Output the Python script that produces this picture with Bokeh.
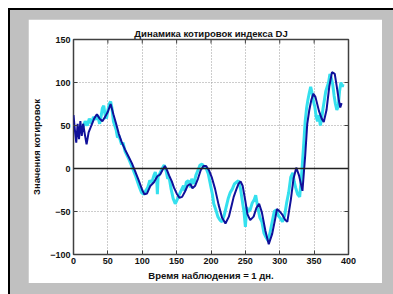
import math
from bokeh.plotting import figure
from bokeh.models import Span, FixedTicker, Range1d, Spacer
from bokeh.layouts import column, row
from bokeh.embed import file_html
from bokeh.resources import INLINE

# dark-blue (smoothed) series
blue_x = [0, 2, 4, 6, 8, 10, 12, 14, 16, 19, 22, 26, 30, 34, 38, 42, 46, 50, 54, 58,
          62, 66, 70, 75, 80, 85, 90, 95, 100, 103, 107, 112, 117, 122, 126, 130, 133,
          136, 139, 143, 146, 150, 154, 158, 162, 166, 170, 173, 177, 181, 185, 189,
          193, 197, 201, 206, 211, 216, 221, 226, 230, 233, 237, 240, 243, 246, 250,
          253, 257, 262, 266, 270, 274, 279, 284, 289, 293, 296, 300, 304, 308, 311,
          316, 320, 324, 328, 333, 337, 340, 343, 346, 349, 352, 357, 361, 364, 368,
          372, 376, 380, 383, 386, 388, 390]
blue_y = [62, 45, 30, 52, 34, 55, 38, 52, 42, 28, 42, 50, 58, 63, 58, 55, 60, 66, 75, 63,
          52, 40, 31, 22, 14, 6, -4, -14, -25, -30, -29, -20, -16, -9, -7, -1, 3,
          -2, -8, -15, -22, -29, -34, -33, -27, -20, -18, -23, -20, -12, -2, 3,
          3, -2, -10, -24, -42, -57, -64, -56, -43, -33, -24, -18, -15, -20, -38,
          -53, -60, -56, -46, -41, -51, -72, -88, -76, -60, -47, -50, -54, -60, -62,
          -37, -12, 1, -8, -26, 15, 52, 68, 80, 87, 83, 67, 58, 54, 68,
          95, 112, 110, 95, 79, 71, 76]

# cyan (observed) series
cyan_x = [14, 17, 20, 23, 26, 29, 32, 35, 38, 40, 42, 44, 46, 48, 50, 52, 54, 56, 58, 60,
          62, 64, 66, 68, 70, 72, 75, 78, 81, 84, 87, 90, 93, 96, 99, 102, 105, 108,
          111, 114, 117, 119, 121, 122, 123, 126, 129, 132, 135, 137, 139, 142, 145,
          148, 151, 154, 157, 160, 162, 164, 167, 170, 172, 175, 178, 181, 184, 187,
          190, 193, 196, 199, 202, 204, 207, 210, 213, 216, 219, 222, 225, 228, 231,
          234, 237, 240, 243, 246, 248, 250, 252, 254, 257, 260, 263, 265, 268, 271,
          274, 277, 280, 283, 286, 289, 292, 295, 298, 301, 304, 307, 310, 313, 316,
          319, 321, 323, 326, 329, 332, 335, 337, 339, 341, 343, 345, 347, 349, 351,
          353, 355, 357, 359, 361, 363, 365, 367, 369, 371, 373, 375, 377, 379, 381,
          383, 385, 387, 389, 391, 392]
cyan_y = [48, 55, 50, 58, 52, 60, 57, 62, 52, 60, 70, 73, 62, 58, 68, 75, 78, 70, 55, 50,
          45, 36, 38, 33, 28, 30, 20, 15, 10, 4, -2, -8, -15, -22, -28, -30, -26, -22,
          -14, -16, -8, -4, -12, -30, -10, -5, 0, 4, -4, -12, -10, -24, -35,
          -41, -36, -30, -25, -20, -26, -16, -14, -22, -12, -18, -8, -2, 4, 5,
          2, 0, -6, -18, -30, -41, -48, -56, -60, -62, -55, -45, -35, -28, -24,
          -18, -16, -14, -24, -40, -50, -68, -45, -50, -48, -40, -36, -31, -45, -57,
          -62, -75, -80, -84, -74, -62, -50, -48, -55, -58, -62, -55, -40, -28, -10,
          -5, -15, -22, -30, -33, -5, 30, 55, 70, 80, 88, 95, 88, 78, 72,
          60, 55, 62, 50, 58, 70, 80, 90, 95, 100, 110, 105, 98, 85, 75,
          68, 72, 90, 100, 95, 98]

x_ticks = [0, 50, 100, 150, 200, 250, 300, 350, 400]
y_ticks = [-100, -50, 0, 50, 100, 150]
x_min, x_max = 0, 400
y_min, y_max = -100, 150

title_text = "Динамика котировок индекса DJ"
x_label = "Время наблюдения = 1 дн."
y_label = "Значения котировок"

FONT = "Liberation Sans"
AXC = "#404040"

p = figure(width=354, height=264, output_backend="svg", toolbar_location=None,
           x_range=Range1d(x_min, x_max), y_range=Range1d(y_min, y_max),
           min_border_left=45, min_border_right=34, min_border_top=20, min_border_bottom=29,
           background_fill_color="white", border_fill_color="white",
           outline_line_color=AXC, outline_line_width=1.5)

p.title.text = title_text
p.title.text_font = FONT
p.title.text_font_size = "9.5px"
p.title.text_font_style = "bold"
p.title.align = "center"
p.title.standoff = 2
p.title.text_color = "#111111"

for ax, ticks in ((p.xaxis[0], x_ticks), (p.yaxis[0], y_ticks)):
    ax.ticker = FixedTicker(ticks=ticks)
    ax.axis_line_color = None
    ax.major_tick_in = 4
    ax.major_tick_out = 0
    ax.major_tick_line_color = AXC
    ax.minor_tick_line_color = None
    ax.major_label_text_font = FONT
    ax.major_label_text_font_size = "9px"
    ax.major_label_text_font_style = "bold"
    ax.major_label_text_color = "#111111"
    ax.major_label_standoff = 3
    ax.axis_label_text_font = FONT
    ax.axis_label_text_font_size = "9.5px"
    ax.axis_label_text_font_style = "bold"
    ax.axis_label_text_color = "#111111"
p.xaxis[0].axis_label = x_label
p.yaxis[0].axis_label = y_label
p.xaxis[0].axis_label_standoff = 3
p.yaxis[0].axis_label_standoff = 5

p.xgrid.ticker = FixedTicker(ticks=x_ticks)
p.ygrid.ticker = FixedTicker(ticks=[t for t in y_ticks if t != 0])
p.grid.grid_line_color = "#9a9a9a"
p.grid.grid_line_dash = "1 2"
p.grid.grid_line_width = 1

p.add_layout(Span(location=0, dimension="width", line_color="#222222", line_width=1.5))

p.line(cyan_x, cyan_y, line_color="#35e0ee", line_width=3)
p.line(blue_x, blue_y, line_color="#10109a", line_width=2)

# inward tick marks on the top and right edges of the box (clipped to the frame)
p.scatter(x_ticks, [y_max] * len(x_ticks), marker="dash", angle=math.pi / 2, size=8,
          line_color=AXC, line_width=1)
p.scatter([x_max] * len(y_ticks), y_ticks, marker="dash", size=8,
          line_color=AXC, line_width=1)

gray = {"background": "#c0c0c0"}
top_band = Spacer(width=383, height=9, styles=gray)
left_band = Spacer(width=18, height=264, styles=gray)
right_band = Spacer(width=11, height=264, styles=gray)
bottom_band = Spacer(width=383, height=11, styles=gray)
framed = column(top_band, row(left_band, p, right_band), bottom_band,
                styles={"border-top": "2px solid #000000",
                        "border-left": "2px solid #000000",
                        "background": "#c0c0c0"})
page = column(Spacer(width=1, height=8), row(Spacer(width=8, height=1), framed))

open("out.html", "w").write(file_html(page, INLINE))
